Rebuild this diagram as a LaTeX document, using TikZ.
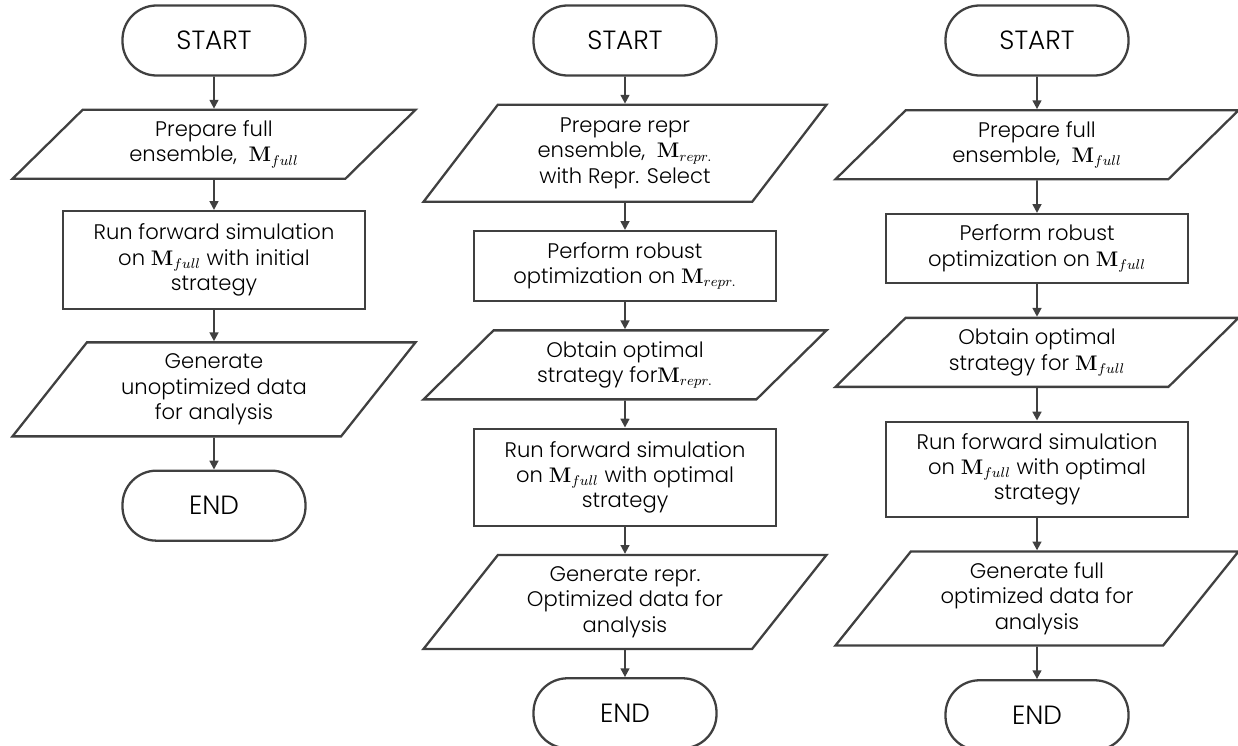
\documentclass[tikz,border=0pt]{standalone}
\usepackage[no-math]{fontspec}
\setmainfont{Poppins}[UprightFont=* Light]
\usetikzlibrary{arrows.meta, positioning, shapes.geometric}
\definecolor{flowgray}{RGB}{64, 64, 64}

\begin{document}
\begin{tikzpicture}[
    node distance=0.62cm,
    terminal/.style={rectangle, rounded corners=0.68cm, draw=flowgray, line width=1.3pt,
        minimum width=3.66cm, minimum height=1.4cm, font=\fontsize{15}{18}\selectfont},
    process/.style={rectangle, draw=flowgray, line width=1.3pt, align=center,
        minimum width=6.04cm, font=\fontsize{12}{14.4}\selectfont},
    io/.style={trapezium, trapezium left angle=40, trapezium right angle=140,
        trapezium stretches body, draw=flowgray, line width=1.3pt, align=center,
        minimum width=8.06cm, minimum height=1.38cm, font=\fontsize{12}{14.4}\selectfont},
    iobig/.style={io, trapezium left angle=48, trapezium right angle=132, minimum height=1.88cm},
    arrow/.style={-{Triangle[length=5pt, width=5pt]}, line width=1.1pt, flowgray}
]
\useasboundingbox (0,0) rectangle (24.76,-14.92);

% Columna 1: simulacion sin optimizar
\node[terminal] (start1) at (4.28,-0.81) {START};
\node[io, below=0.64cm of start1] (prep1) {Prepare full\\ensemble,\ \ $\mathbf{M}_{full}$};
\node[process, minimum height=1.96cm, below=0.6cm of prep1] (run1) {Run forward simulation\\on $\mathbf{M}_{full}$ with initial\\strategy};
\node[iobig, below=0.62cm of run1] (gen1) {Generate\\unoptimized data\\for analysis};
\node[terminal, below=0.64cm of gen1] (end1) {END};

% Columna 2: optimizacion con ensamble representativo
\begin{scope}[node distance=0.54cm]
\node[terminal] (start2) at (12.5,-0.81) {START};
\node[iobig, minimum height=1.94cm, below=of start2] (prep2) {Prepare repr\\ensemble,\ \ $\mathbf{M}_{repr.}$\\with Repr. Select};
\node[process, minimum height=1.4cm, below=of prep2] (opt2) {Perform robust\\optimization on $\mathbf{M}_{repr.}$};
\node[io, below=of opt2] (obt2) {Obtain optimal\\strategy for$\mathbf{M}_{repr.}$};
\node[process, minimum height=1.94cm, below=of obt2] (run2) {Run forward simulation\\on $\mathbf{M}_{full}$ with optimal\\strategy};
\node[iobig, below=of run2] (gen2) {Generate repr.\\Optimized data for\\analysis};
\node[terminal, below=of gen2] (end2) {END};
\end{scope}

% Columna 3: optimizacion con ensamble completo
\begin{scope}[node distance=0.65cm]
\node[terminal] (start3) at (20.74,-0.81) {START};
\node[io, below=of start3] (prep3) {Prepare full\\ensemble,\ \ $\mathbf{M}_{full}$};
\node[process, minimum height=1.38cm, below=of prep3] (opt3) {Perform robust\\optimization on $\mathbf{M}_{full}$};
\node[io, below=of opt3] (obt3) {Obtain optimal\\strategy for $\mathbf{M}_{full}$};
\node[process, minimum height=1.9cm, below=of obt3] (run3) {Run forward simulation\\on $\mathbf{M}_{full}$ with optimal\\strategy};
\node[iobig, below=of run3] (gen3) {Generate full\\optimized data for\\analysis};
\node[terminal, below=of gen3] (end3) {END};
\end{scope}

% Flechas columna 1
\draw[arrow] (start1) -- (prep1);
\draw[arrow] (prep1) -- (run1);
\draw[arrow] (run1) -- (gen1);
\draw[arrow] (gen1) -- (end1);

% Flechas columna 2
\draw[arrow] (start2) -- (prep2);
\draw[arrow] (prep2) -- (opt2);
\draw[arrow] (opt2) -- (obt2);
\draw[arrow] (obt2) -- (run2);
\draw[arrow] (run2) -- (gen2);
\draw[arrow] (gen2) -- (end2);

% Flechas columna 3
\draw[arrow] (start3) -- (prep3);
\draw[arrow] (prep3) -- (opt3);
\draw[arrow] (opt3) -- (obt3);
\draw[arrow] (obt3) -- (run3);
\draw[arrow] (run3) -- (gen3);
\draw[arrow] (gen3) -- (end3);

\end{tikzpicture}
\end{document}
